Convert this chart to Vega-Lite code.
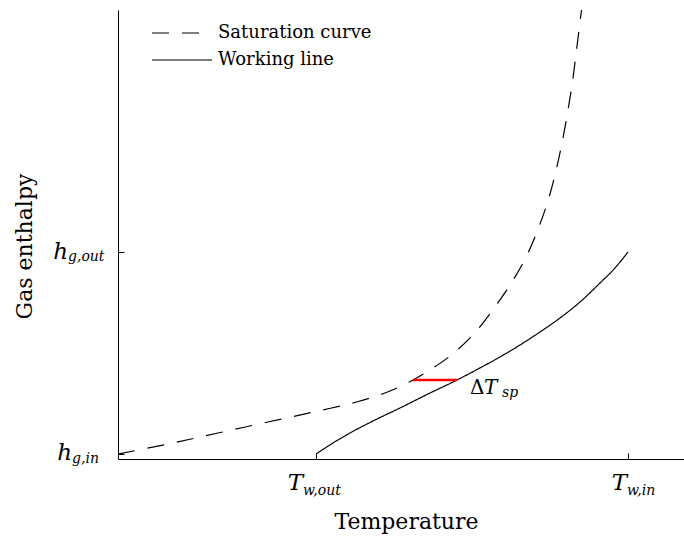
{
  "$schema": "https://vega.github.io/schema/vega-lite/v6.json",
  "width": 566,
  "height": 449,
  "autosize": {"type": "none"},
  "padding": {"left": 118, "top": 10, "right": 0, "bottom": 77},
  "background": "white",
  "config": {"view": {"stroke": null}, "font": "DejaVu Serif"},
  "datasets": {
    "curves": [
      {"series": "Saturation curve", "T": 0, "h": 5},
      {"series": "Saturation curve", "T": 50, "h": 15},
      {"series": "Saturation curve", "T": 100, "h": 26},
      {"series": "Saturation curve", "T": 150, "h": 37},
      {"series": "Saturation curve", "T": 200, "h": 48},
      {"series": "Saturation curve", "T": 242, "h": 58},
      {"series": "Saturation curve", "T": 267, "h": 66},
      {"series": "Saturation curve", "T": 295, "h": 79},
      {"series": "Saturation curve", "T": 315, "h": 91},
      {"series": "Saturation curve", "T": 337, "h": 107},
      {"series": "Saturation curve", "T": 360, "h": 130},
      {"series": "Saturation curve", "T": 379, "h": 155},
      {"series": "Saturation curve", "T": 397, "h": 182},
      {"series": "Saturation curve", "T": 410, "h": 206},
      {"series": "Saturation curve", "T": 422, "h": 235},
      {"series": "Saturation curve", "T": 429, "h": 255},
      {"series": "Saturation curve", "T": 437, "h": 284},
      {"series": "Saturation curve", "T": 444, "h": 316},
      {"series": "Saturation curve", "T": 450, "h": 349},
      {"series": "Saturation curve", "T": 455, "h": 381},
      {"series": "Saturation curve", "T": 459, "h": 413},
      {"series": "Saturation curve", "T": 463.5, "h": 449},
      {"series": "Working line", "T": 198, "h": 5},
      {"series": "Working line", "T": 215, "h": 16},
      {"series": "Working line", "T": 232, "h": 26},
      {"series": "Working line", "T": 257, "h": 39},
      {"series": "Working line", "T": 282, "h": 51},
      {"series": "Working line", "T": 310, "h": 65},
      {"series": "Working line", "T": 339, "h": 79},
      {"series": "Working line", "T": 360, "h": 90},
      {"series": "Working line", "T": 382, "h": 102},
      {"series": "Working line", "T": 402, "h": 114},
      {"series": "Working line", "T": 422, "h": 127},
      {"series": "Working line", "T": 442, "h": 141},
      {"series": "Working line", "T": 462, "h": 157},
      {"series": "Working line", "T": 482, "h": 176},
      {"series": "Working line", "T": 497, "h": 191},
      {"series": "Working line", "T": 510, "h": 207}
    ],
    "spread": [{"T": 295, "T2": 339, "h": 79}],
    "labels": [
      {"T": 185, "h": -31, "txt": "T", "k": "main"},
      {"T": 509, "h": -31, "txt": "T", "k": "main"},
      {"T": -50, "h": 200, "txt": "h", "k": "main"},
      {"T": -46, "h": -1, "txt": "h", "k": "main"},
      {"T": 185, "h": -36, "txt": "w,out", "k": "sub"},
      {"T": 509, "h": -36, "txt": "w,in", "k": "sub"},
      {"T": -50, "h": 198, "txt": "g,out", "k": "sub"},
      {"T": -46, "h": -4, "txt": "g,in", "k": "sub"},
      {"T": 384, "h": 62, "txt": "sp", "k": "sub"},
      {"T": 352, "h": 65, "txt": "Δ", "k": "delta"},
      {"T": 366, "h": 65, "txt": "T", "k": "dT"}
    ]
  },
  "layer": [
    {
      "data": {"name": "curves"},
      "mark": {"type": "line", "interpolate": "monotone", "color": "black", "strokeWidth": 1.2},
      "encoding": {
        "x": {
          "field": "T", "type": "quantitative",
          "scale": {"domain": [0, 566], "nice": false, "zero": false},
          "axis": {
            "values": [198, 510], "labels": false, "tickSize": -6, "tickColor": "black", "tickWidth": 1,
            "domainColor": "black", "domainWidth": 1, "grid": false,
            "title": "Temperature", "titleFont": "DejaVu Serif", "titleFontSize": 22, "titleFontWeight": "normal",
            "titleColor": "black", "titleX": 288, "titleY": 69, "titleBaseline": "alphabetic", "titleAlign": "center"
          }
        },
        "y": {
          "field": "h", "type": "quantitative",
          "scale": {"domain": [0, 449], "nice": false, "zero": false},
          "axis": {
            "values": [5, 207], "labels": false, "tickSize": -6, "tickColor": "black", "tickWidth": 1,
            "domainColor": "black", "domainWidth": 1, "grid": false,
            "title": "Gas enthalpy", "titleFont": "DejaVu Serif", "titleFontSize": 22, "titleFontWeight": "normal",
            "titleColor": "black", "titleX": -87, "titleY": 236, "titleAngle": -90, "titleBaseline": "alphabetic", "titleAlign": "center"
          }
        },
        "strokeDash": {
          "field": "series", "type": "nominal",
          "scale": {"domain": ["Saturation curve", "Working line"], "range": [[17, 13], [1, 0]]},
          "legend": {
            "orient": "none", "legendX": 33, "legendY": 14, "title": null, "padding": 0,
            "symbolType": "stroke", "symbolSize": 3600, "symbolStrokeWidth": 1.2, "symbolStrokeColor": "black",
            "labelFont": "DejaVu Serif", "labelFontSize": 18, "labelColor": "black", "labelOffset": 5,
            "clipHeight": 18, "rowPadding": 9, "labelLimit": 300
          }
        }
      }
    },
    {
      "data": {"name": "spread"},
      "mark": {"type": "rule", "color": "#ff0000", "strokeWidth": 2.5},
      "encoding": {
        "x": {"field": "T", "type": "quantitative"},
        "x2": {"field": "T2"},
        "y": {"field": "h", "type": "quantitative"}
      }
    },
    {
      "data": {"name": "labels"},
      "transform": [{"filter": "datum.k === 'main'"}],
      "mark": {"type": "text", "font": "DejaVu Serif", "fontStyle": "italic", "fontSize": 23, "align": "right", "baseline": "alphabetic", "color": "black"},
      "encoding": {
        "x": {"field": "T", "type": "quantitative"},
        "y": {"field": "h", "type": "quantitative"},
        "text": {"field": "txt"}
      }
    },
    {
      "data": {"name": "labels"},
      "transform": [{"filter": "datum.k === 'sub'"}],
      "mark": {"type": "text", "font": "DejaVu Serif", "fontStyle": "italic", "fontSize": 14, "align": "left", "baseline": "alphabetic", "color": "black"},
      "encoding": {
        "x": {"field": "T", "type": "quantitative"},
        "y": {"field": "h", "type": "quantitative"},
        "text": {"field": "txt"}
      }
    },
    {
      "data": {"name": "labels"},
      "transform": [{"filter": "datum.k === 'delta'"}],
      "mark": {"type": "text", "font": "DejaVu Serif", "fontSize": 20, "align": "left", "baseline": "alphabetic", "color": "black"},
      "encoding": {
        "x": {"field": "T", "type": "quantitative"},
        "y": {"field": "h", "type": "quantitative"},
        "text": {"field": "txt"}
      }
    },
    {
      "data": {"name": "labels"},
      "transform": [{"filter": "datum.k === 'dT'"}],
      "mark": {"type": "text", "font": "DejaVu Serif", "fontStyle": "italic", "fontSize": 20, "align": "left", "baseline": "alphabetic", "color": "black"},
      "encoding": {
        "x": {"field": "T", "type": "quantitative"},
        "y": {"field": "h", "type": "quantitative"},
        "text": {"field": "txt"}
      }
    }
  ]
}
